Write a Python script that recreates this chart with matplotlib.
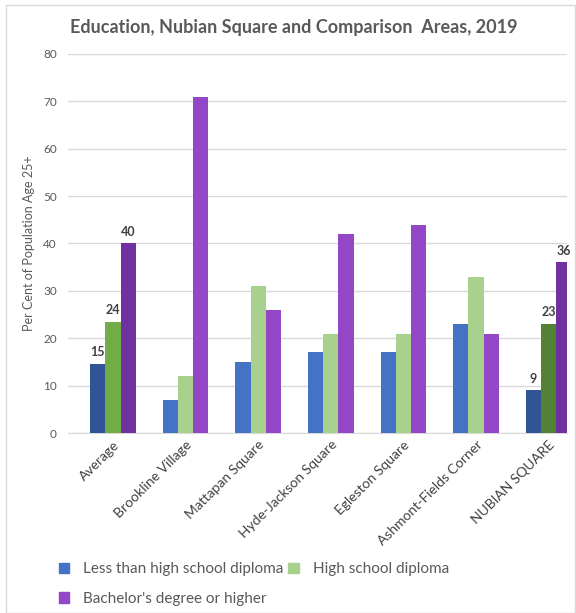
import numpy as np
import matplotlib.pyplot as plt
from matplotlib.patches import Rectangle, Patch

areas = ['Average', 'Brookline Village', 'Mattapan Square', 'Hyde-Jackson Square',
         'Egleston Square', 'Ashmont-Fields Corner', 'NUBIAN SQUARE']
less_hs = [14.6, 7, 15, 17, 17, 23, 9]
hs = [23.4, 12, 31, 21, 21, 33, 23]
bach = [40, 71, 26, 42, 44, 21, 36]
labels_shown = {0: ['15', '24', '40'], 6: ['9', '23', '36']}

plt.rcParams['font.family'] = ['Lato', 'DejaVu Sans']

c_blue = ['#2f5597', '#4472c4', '#4472c4', '#4472c4', '#4472c4', '#4472c4', '#2f5597']
c_green = ['#70ad47', '#a9d18e', '#a9d18e', '#a9d18e', '#a9d18e', '#a9d18e', '#548235']
c_purple = ['#7030a0', '#9347c6', '#9347c6', '#9347c6', '#9347c6', '#9347c6', '#7030a0']

fig = plt.figure(figsize=(5.76, 6.13), dpi=100)
fig.patches.append(Rectangle((6/576, 0), 1 - 6/576 - 0.002, 1 - 5/613, transform=fig.transFigure,
                             fill=False, edgecolor='#d9d9d9', lw=1))
ax = fig.add_axes([0.118, 0.2936, 0.866, 0.6184])

x = np.arange(len(areas))
w = 0.21
b1 = ax.bar(x - w, less_hs, w, color=c_blue, zorder=3)
b2 = ax.bar(x, hs, w, color=c_green, zorder=3)
b3 = ax.bar(x + w, bach, w, color=c_purple, zorder=3)

for i, labs in labels_shown.items():
    for bars, lab in zip([b1, b2, b3], labs):
        r = bars[i]
        ax.text(r.get_x() + r.get_width()/2, r.get_height() + 1.2, lab, ha='center', va='bottom',
                fontsize=9, fontweight='bold', color='#404040')

ax.set_ylim(0, 80)
ax.set_yticks(range(0, 81, 10))
ax.set_xlim(-0.62, 6.25)
ax.set_xticks(x)
ax.set_xticklabels(areas, rotation=45, ha='right', rotation_mode='anchor', fontsize=10, color='#404040')
ax.tick_params(axis='y', labelsize=8.5, labelcolor='#595959', length=0, pad=8)
ax.tick_params(axis='x', length=0, pad=4)
ax.grid(axis='y', color='#d9d9d9', lw=1, zorder=0)
for s in ['top', 'right', 'left']:
    ax.spines[s].set_visible(False)
ax.spines['bottom'].set_color('#d9d9d9')
ax.set_ylabel('Per Cent of Population Age 25+', fontsize=9, color='#595959', labelpad=6)

fig.text(0.51, 0.955, 'Education, Nubian Square and Comparison  Areas, 2019', ha='center', va='center',
         fontsize=13, fontweight='bold', color='#595959')

handles = [Patch(color='#4472c4'), Patch(color='#9347c6'), Patch(color='#a9d18e')]
fig.legend(handles, ['Less than high school diploma', "Bachelor's degree or higher", 'High school diploma'],
           loc='upper left', bbox_to_anchor=(0.078, 0.105), ncol=2, frameon=False, fontsize=11,
           labelcolor='#595959', handlelength=0.7, handleheight=0.7, columnspacing=0.3,
           handletextpad=0.9, labelspacing=1.0)

fig.savefig('out.png', dpi=100)
